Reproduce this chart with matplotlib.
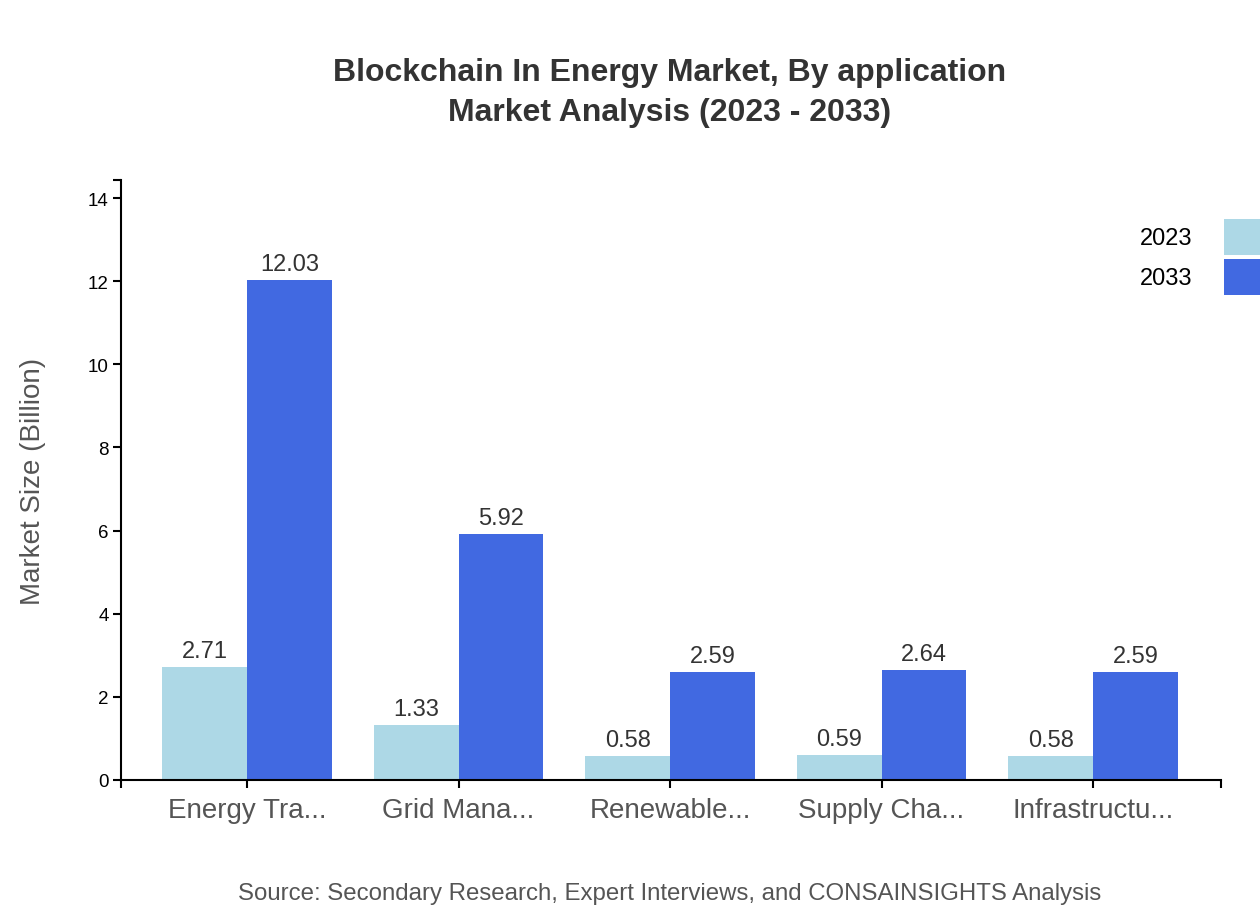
import matplotlib.pyplot as plt
from matplotlib.patches import Rectangle
import numpy as np

# =============================================================================
# Data
# =============================================================================

categories = ["Energy Tra...", "Grid Mana...", "Renewable...", "Supply Cha...", "Infrastructu..."]
years = ["2023", "2033"]
values_2023 = [2.71, 1.33, 0.58, 0.59, 0.58]
values_2033 = [12.03, 5.92, 2.59, 2.64, 2.59]
colors = ["#ADD8E6", "#4169E1"]

plt.rcParams['font.family'] = ['Liberation Sans', 'DejaVu Sans']

W, H = 1260, 920
fig = plt.figure(figsize=(W / 100, H / 100), dpi=100)
fig.set_facecolor('w')

# plot area in pixels: x 121..1221, y 181..781
ax = fig.add_axes([121 / W, (H - 781) / H, 1100 / W, 600 / H])

x = np.arange(len(categories))
bw = 0.4
series = [values_2023, values_2033]
for i, vals in enumerate(series):
    offs = (i - 0.5) * bw
    bars = ax.bar(x + offs, vals, width=bw, color=colors[i], linewidth=0)
    for b, v in zip(bars, vals):
        ax.annotate("%.2f" % v, (b.get_x() + b.get_width() / 2, v),
                    xytext=(0, 5), textcoords='offset pixels',
                    ha='center', va='bottom', fontsize=17, color='#333333')

ymax = max(values_2033) * 1.2
ax.set_ylim(0, ymax)
ax.set_xlim(-0.596, len(categories) - 1 + 0.605)

ax.spines['top'].set_visible(False)
ax.spines['right'].set_visible(False)
ax.spines['left'].set_linewidth(1.5)
ax.spines['bottom'].set_linewidth(1.5)

ax.set_yticks(np.arange(0, 15, 2))
ax.set_yticks([ymax], minor=True)
ax.set_xticks(x)
ax.set_xticklabels(categories, fontsize=20, color='#555555')
ax.set_xticks(ax.get_xlim(), minor=True)
ax.tick_params(axis='y', which='both', length=6, width=1.5, labelsize=13.5, pad=3)
ax.tick_params(axis='x', which='both', length=6, width=1.5, pad=6)

ax.set_ylabel("Market Size (Billion)", fontsize=20, color='#555555')
ax.yaxis.set_label_coords(-0.068, 0.5)

# title
fig.text(670 / W, 1 - 73 / H, "Blockchain In Energy Market, By application",
         ha='center', va='center', fontsize=23, fontweight='bold', color='#333333')
fig.text(670 / W, 1 - 113 / H, "Market Analysis (2023 - 2033)",
         ha='center', va='center', fontsize=23, fontweight='bold', color='#333333')

# legend
for i, yr in enumerate(years):
    cy = 238 + i * 40
    fig.add_artist(Rectangle((1224 / W, 1 - (cy + 18) / H), 40 / W, 36 / H,
                             transform=fig.transFigure, color=colors[i], linewidth=0))
    fig.text(1192 / W, 1 - (cy + 1) / H, yr, ha='right', va='center', fontsize=17, color='black')

# source
fig.text(670 / W, 1 - 894 / H,
         "Source: Secondary Research, Expert Interviews, and CONSAINSIGHTS Analysis",
         ha='center', va='center', fontsize=17.3, color='#555555')

plt.savefig("out.png", dpi=100)
print("done")
